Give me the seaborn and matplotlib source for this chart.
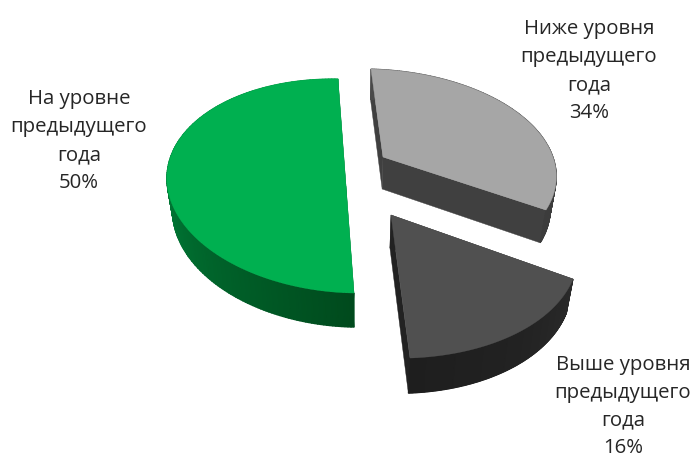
import numpy as np
import matplotlib
matplotlib.use("Agg")
import matplotlib.pyplot as plt
from matplotlib.patches import Polygon
import seaborn as sns

# Shares of respondents by comparison with the previous year
categories = ["На уровне\nпредыдущего\nгода", "Ниже уровня\nпредыдущего\nгода", "Выше уровня\nпредыдущего\nгода"]
shares = [50, 34, 16]

TOP_COLORS = ["#00B050", "#A6A6A6", "#505050"]
WALL_RAMPS = [["#0E9C4A", "#008A3E", "#00682D", "#004A1D"],
              ["#4A4A4A", "#404040", "#3C3C3C"],
              ["#2A2A2A", "#222222", "#1E1E1E"]]
SIDE_COLORS = ["#00682D", "#404040", "#222222"]
FIRST_ANGLE = 92.5

# Each slice is set in the scene by a projective view: origin, 2x2 linear part, perspective terms
VIEWS = [
    dict(origin=(346, 186), m=(179.2, -0.19, 7.66, -106.8), w=(0.0, 0.0)),
    dict(origin=(383, 157), m=(182.33, -5.73, 2.687, -100.29), w=(0.0675, 0.143)),
    dict(origin=(391, 215), m=(187.6, -5.91, 6.315, -105.82), w=(0.046, 0.2611)),
]
LABEL_CENTERS = [(79, 141), (589, 71), (623, 406.5)]


def project(view, x, y):
    a, b, c, d = view["m"]
    w = 1 + view["w"][0] * x + view["w"][1] * y
    return (view["origin"][0] + (a * x + b * y) / w,
            view["origin"][1] + (c * x + d * y) / w)


def extrude(px, py):
    # Lower face of the disc: pushed down, drawn slightly towards the vanishing line
    return px - 0.03 * (px - 355), py + 29.5 + 0.016 * py


sns.set_theme(style="white")
plt.rcParams["font.family"] = ["Open Sans", "DejaVu Sans"]

fig = plt.figure(figsize=(6.93, 4.58), dpi=100, facecolor="white")
ax = fig.add_axes([0, 0, 1, 1])
ax.set_xlim(0, 693)
ax.set_ylim(458, 0)
ax.axis("off")

sweeps = np.array(shares) / sum(shares) * 360
# Green runs counter-clockwise from the start angle, the others clockwise from it
starts = [FIRST_ANGLE, FIRST_ANGLE, FIRST_ANGLE - sweeps[1]]
ends = [FIRST_ANGLE + sweeps[0], FIRST_ANGLE - sweeps[1], FIRST_ANGLE - sweeps[1] - sweeps[2]]

for i, view in enumerate(VIEWS):
    theta = np.radians(np.linspace(starts[i], ends[i], 181))
    rx, ry = project(view, np.cos(theta), np.sin(theta))
    ox, oy = view["origin"]
    bx, by = extrude(rx, ry)
    obx, oby = extrude(np.array([ox]), np.array([oy]))

    # Radial side walls
    for k in (0, -1):
        quad = [(ox, oy), (rx[k], ry[k]), (bx[k], by[k]), (obx[0], oby[0])]
        ax.add_patch(Polygon(quad, closed=True, fc=SIDE_COLORS[i], ec=SIDE_COLORS[i], lw=0.3, zorder=2 + i))

    # Outer wall with a smooth shade along the arc
    wall_cmap = sns.blend_palette(WALL_RAMPS[i], as_cmap=True)
    shade = np.tile(np.linspace(0, 1, len(theta)), (2, 1))
    ax.pcolormesh(np.vstack([rx, bx]), np.vstack([ry, by]), shade, cmap=wall_cmap,
                  shading="gouraud", vmin=0, vmax=1, zorder=2.2 + i)

    # Top face
    top = np.column_stack([np.r_[ox, rx], np.r_[oy, ry]])
    ax.add_patch(Polygon(top, closed=True, fc=TOP_COLORS[i], ec=TOP_COLORS[i], lw=0.3, zorder=2.5 + i))

for name, share, (cx, cy) in zip(categories, shares, LABEL_CENTERS):
    ax.text(cx, cy, f"{name}\n{share}%", ha="center", va="center", ma="center",
            fontsize=14.7, color="#262626", linespacing=1.52)

fig.savefig("out.png", dpi=100, facecolor="white")
